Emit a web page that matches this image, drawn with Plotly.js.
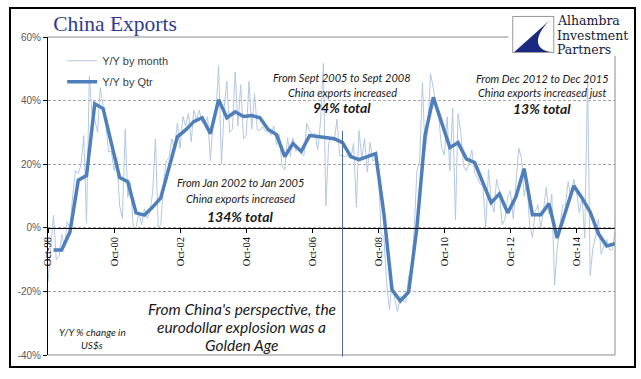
<!DOCTYPE html>
<html>
<head>
<meta charset="utf-8">
<script src="https://cdn.plot.ly/plotly-3.0.1.min.js"></script>
<style>
  html, body { margin: 0; padding: 0; background: #fff; }
  #chart { width: 641px; height: 379px; position: relative; }
  #frame { position: absolute; left: 9px; top: 7px; width: 623px; height: 357px; border: 2px solid #000; pointer-events: none; }
</style>
</head>
<body>
<div id="chart"></div>
<div id="frame"></div>
<script>
// Monthly Y/Y % change in exports (US$), by calendar year
const yoyMonth1998 = [-17, -6, 4]; // Oct-Dec
const yoyMonth1999 = [-10, -9, -2, -6, 2, 0, 10, 18, 17, 20, 29, 1.6];
const yoyMonth2000 = [47.6, 35, 34, 30, 44, 38.5, 33, 24, 24, 18, 22, 7];
const yoyMonth2001 = [3, 31, 9.5, 14, 0, 0, 5, 1, 6, 3, 5, 11];
const yoyMonth2002 = [28, 0, 1, 14, 21, 22, 28, 25, 33, 25, 35, 32];
const yoyMonth2003 = [36, 27, 37, 34, 37, 33, 33, 35, 21, 34, 36, 51];
const yoyMonth2004 = [20, 38, 46, 30, 31, 49, 32, 45, 28, 29, 46, 31];
const yoyMonth2005 = [42.2, 30.8, 30.6, 31.9, 30.2, 30.7, 29.1, 32.1, 26.1, 29.4, 19.5, 18.2];
const yoyMonth2006 = [28.3, 22.4, 28.3, 24.1, 24.8, 23.3, 22.6, 32.8, 30.5, 29.4, 29.6, 24.5];
const yoyMonth2007 = [33.4, 51.7, 6.9, 26.7, 28.2, 27.2, 34.1, 22.7, 22.8, 22.3, 22.8, 21.7];
const yoyMonth2008 = [26.6, 6.5, 30.6, 21.8, 28.1, 17.6, 26.9, 21.1, 21.5, 19.2, -2.2, -2.8];
const yoyMonth2009 = [-17.5, -25.7, -17.1, -22.6, -26.4, -21.4, -23, -23.4, -15.2, -13.8, -1.2, 17.7];
const yoyMonth2010 = [21, 45.7, 24.3, 30.5, 48.5, 43.9, 38.1, 34.4, 25.1, 22.9, 34.9, 17.9];
const yoyMonth2011 = [37.7, 2.4, 35.8, 29.9, 19.4, 17.9, 20.4, 24.5, 17.1, 15.9, 13.8, 13.4];
const yoyMonth2012 = [-0.5, 18.4, 8.9, 4.9, 15.3, 11.3, 1, 2.7, 9.9, 11.6, 2.9, 14.1];
const yoyMonth2013 = [25, 21.8, 10, 14.7, 1, -3.1, 5.1, 7.2, -0.3, 5.6, 12.7, 4.3];
const yoyMonth2014 = [10.6, -18.1, -6.6, 0.9, 7, 7.2, 14.5, 9.4, 15.3, 11.6, 4.7, 9.7];
const yoyMonth2015 = [-3.3, 48.3, -15, -6.4, -2.5, 2.8, -8.3, -5.5, -3.7, -6.9, -6.8, -1.4];

// Quarterly Y/Y % change, quarter-end months from Dec 1998 to Dec 2015
const yoyQtr = [
  -7,
  -7, -1.3, 15, 16.4,
  39, 37.5, 27, 15.8,
  14.5, 4.7, 4, 6.5,
  9.4, 19, 28.6, 30.8,
  33.4, 34.6, 29.6, 40.3,
  34.6, 36.5, 35, 35.3,
  34.6, 30.9, 29.3, 22.4,
  26.5, 24, 29, 28.7,
  28.3, 28, 26.8, 22.4,
  21.4, 22.4, 23.3, 4.5,
  -19.5, -23, -20.2, 0,
  29, 41, 33, 25.2,
  26.8, 21.7, 20.5, 14.3,
  7.9, 10.7, 4.7, 9.8,
  18.6, 4.1, 4.1, 7.6,
  -3.2, 5, 13.2, 9.4,
  5, -1.9, -5.7, -5
];

const xTickDates = ['1998-10-01','2000-10-01','2002-10-01','2004-10-01','2006-10-01','2008-10-01','2010-10-01','2012-10-01','2014-10-01'];
const xTickLabels = ['Oct-98','Oct-00','Oct-02','Oct-04','Oct-06','Oct-08','Oct-10','Oct-12','Oct-14'];
const yTickValues = [-40, -20, 0, 20, 40, 60];
const yTickLabels = ['-40%', '-20%', '0%', '20%', '40%', '60%'];
const markerDate = '2007-09-01';

const monthlyYears = [yoyMonth1998, yoyMonth1999, yoyMonth2000, yoyMonth2001, yoyMonth2002, yoyMonth2003,
  yoyMonth2004, yoyMonth2005, yoyMonth2006, yoyMonth2007, yoyMonth2008, yoyMonth2009, yoyMonth2010,
  yoyMonth2011, yoyMonth2012, yoyMonth2013, yoyMonth2014, yoyMonth2015];

function pad(n) { return (n < 10 ? '0' : '') + n; }
const mDates = [], mVals = [];
monthlyYears.forEach(function (arr, i) {
  const year = 1998 + i;
  const startMonth = 13 - arr.length;
  arr.forEach(function (v, j) {
    mDates.push(year + '-' + pad(startMonth + j) + '-01');
    mVals.push(v);
  });
});
const qDates = [];
yoyQtr.forEach(function (v, k) {
  const total = 1998 * 12 + 11 + 3 * k; // Dec 1998 onwards
  const y = Math.floor(total / 12), m = total % 12 + 1;
  qDates.push(y + '-' + pad(m) + '-01');
});

const traces = [
  { x: mDates, y: mVals, type: 'scatter', mode: 'lines', name: 'Y/Y by month',
    line: { color: '#B4C8E3', width: 1 }, legendgroup: 'a' },
  { x: qDates, y: yoyQtr, type: 'scatter', mode: 'lines', name: 'Y/Y by Qtr',
    line: { color: '#4F7FBA', width: 3.5 }, legendgroup: 'b' }
];

const txt = '#1a1a1a';
function ann(text, x, y, size, opts) {
  return Object.assign({ text: text, xref: 'paper', yref: 'paper', x: x, y: y, showarrow: false,
    xanchor: 'center', yanchor: 'middle',
    font: { family: 'Lato, sans-serif', size: size, color: txt, style: 'italic' } }, opts || {});
}
function logoText(text, y) {
  return { text: text, xref: 'paper', yref: 'paper', x: 0.896, y: y, xanchor: 'left', yanchor: 'middle',
    showarrow: false, borderpad: 0,
    font: { family: 'DejaVu Serif, serif', size: 12.5, color: '#15193A' } };
}

const logoSvg =
  '<svg xmlns="http://www.w3.org/2000/svg" width="108" height="46" viewBox="0 0 108 46">' +
  '<rect x="0" y="0" width="108" height="46" fill="#fff"/>' +
  '<rect x="4.5" y="6.5" width="41" height="36" fill="#fff" stroke="#9a9a9a" stroke-width="1"/>' +
  '<path d="M44,8 L6,42 L44,42 C26,41 24,26 44,8 Z" fill="#1B2A80"/>' +
  '</svg>';

const layout = {
  width: 641, height: 379,
  margin: { l: 48, r: 26, t: 37, b: 24 },
  paper_bgcolor: '#fff', plot_bgcolor: '#fff',
  title: { text: 'China Exports', x: 0.083, xanchor: 'left', y: 0.937, yanchor: 'middle',
    font: { family: 'Liberation Serif, serif', size: 21.5, color: '#2E3B8F' } },
  showlegend: true,
  legend: { x: 0.025, y: 0.971, xanchor: 'left', yanchor: 'top', bgcolor: 'rgba(0,0,0,0)',
    font: { family: 'Liberation Sans, Arial, sans-serif', size: 11, color: '#404040' },
    tracegroupgap: 2 },
  xaxis: {
    type: 'date', range: ['1998-10-01', '2015-12-01'],
    anchor: 'free', position: 0.4,
    tickmode: 'array', tickvals: xTickDates, ticktext: xTickLabels, tickangle: -90,
    ticks: 'outside', ticklen: 4, tickcolor: '#000',
    showline: true, linecolor: '#000', linewidth: 1,
    showgrid: false, zeroline: false,
    tickfont: { family: 'Liberation Serif, serif', size: 10.5, color: '#000' }
  },
  yaxis: {
    range: [-40, 60], tickmode: 'array', tickvals: yTickValues, ticktext: yTickLabels,
    ticks: 'outside', ticklen: 4, tickcolor: '#000',
    showline: true, linecolor: '#000', linewidth: 1,
    showgrid: true, gridcolor: '#A6A6A6', gridwidth: 1, griddash: '3px,2px',
    zeroline: false,
    tickfont: { family: 'Liberation Sans, Arial, sans-serif', size: 10, color: '#595959' }
  },
  shapes: [
    { type: 'line', xref: 'paper', yref: 'paper', x0: 0, x1: 0.812, y0: 1, y1: 1, line: { color: '#8C8C8C', width: 1 } },
    { type: 'line', xref: 'paper', yref: 'paper', x0: 1, x1: 1, y0: 0, y1: 0.94, line: { color: '#8C8C8C', width: 1 } },
    { type: 'line', xref: 'paper', yref: 'paper', x0: 0, x1: 1, y0: 0, y1: 0, line: { color: '#8C8C8C', width: 1 } },
    { type: 'line', xref: 'x', yref: 'paper', x0: markerDate, x1: markerDate, y0: -0.005, y1: 0.705,
      line: { color: '#4A6A94', width: 1 } }
  ],
  images: [{
    source: 'data:image/svg+xml;charset=utf-8,' + encodeURIComponent(logoSvg),
    xref: 'paper', yref: 'paper', x: 0.8117, y: 1.085, sizex: 0.1906, sizey: 0.1447,
    xanchor: 'left', yanchor: 'top', sizing: 'stretch', layer: 'above'
  }],
  annotations: [
    ann('From Jan 2002 to Jan 2005', 0.339, 0.541, 11),
    ann('China exports increased', 0.339, 0.491, 11),
    ann('<b>134% total</b>', 0.339, 0.437, 14),
    ann('From Sept 2005 to Sept 2008', 0.519, 0.874, 11),
    ann('China exports increased', 0.519, 0.827, 11),
    ann('<b>94% total</b>', 0.519, 0.777, 14),
    ann('From Dec 2012 to Dec 2015', 0.872, 0.871, 11),
    ann('China exports increased just', 0.872, 0.824, 11),
    ann('<b>13% total</b>', 0.872, 0.774, 14),
    ann("From China's perspective, the", 0.342, 0.145, 15.5),
    ann('eurodollar explosion was a', 0.342, 0.088, 15.5),
    ann('Golden Age', 0.342, 0.033, 15.5),
    ann('Y/Y % change in', 0.078, 0.072, 10),
    ann('US$s', 0.078, 0.033, 10),
    logoText('Alhambra', 1.051),
    logoText('Investment', 1.006),
    logoText('Partners', 0.961)
  ]
};

Plotly.newPlot('chart', traces, layout, { displayModeBar: false, staticPlot: true });
</script>
</body>
</html>
